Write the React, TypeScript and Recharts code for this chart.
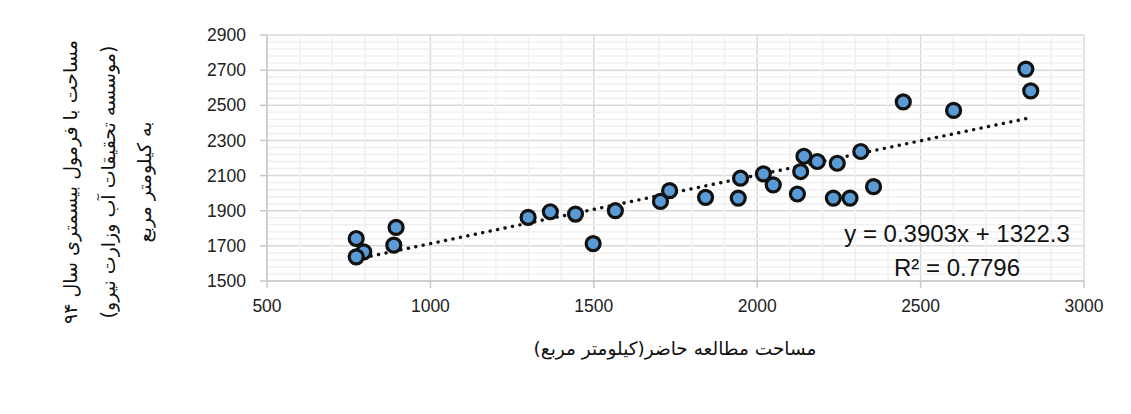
import React from 'react';
import { ScatterChart, Scatter, XAxis, YAxis, CartesianGrid, ReferenceLine } from 'recharts';

// study-area (km²) vs. area from the Bismetri formula (km²)
const studyArea = [
  773, 796, 773, 895, 888, 1299, 1367, 1444, 1498, 1566,
  1704, 1732, 1842, 1942, 1949, 2019, 2049, 2143, 2133, 2184,
  2123, 2245, 2317, 2233, 2284, 2356, 2447, 2601, 2822, 2837,
];
const formulaArea = [
  1742, 1666, 1637, 1805, 1704, 1862, 1894, 1881, 1713, 1900,
  1953, 2014, 1976, 1972, 2085, 2110, 2047, 2210, 2123, 2180,
  1995, 2170, 2237, 1972, 1972, 2037, 2519, 2471, 2706, 2582,
];

const xTicks = [500, 1000, 1500, 2000, 2500, 3000];
const yTicks = [1500, 1700, 1900, 2100, 2300, 2500, 2700, 2900];

// linear trendline as reported on the chart
const slope = 0.3903;
const intercept = 1322.3;
const equationText = 'y = 0.3903x + 1322.3';
const r2Text = 'R² = 0.7796';

const xTitle = 'مساحت مطالعه حاضر(کیلومتر مربع)';
const yTitleLines = [
  'مساحت با فرمول بیسمتری سال ۹۴',
  '(موسسه تحقیقات آب وزارت نیرو)',
  'به کیلومتر مربع',
];

const points = studyArea.map((x, i) => ({ x, y: formulaArea[i] }));
const xMin = Math.min(...studyArea);
const xMax = Math.max(...studyArea);

// minor gridlines: every 100 on x, every 40 on y
const minorX = Array.from({ length: 26 }, (_, i) => 500 + i * 100).filter(v => v % 500 !== 0);
const minorY = Array.from({ length: 36 }, (_, i) => 1500 + i * 40).filter(v => (v - 1500) % 200 !== 0);

const W = 1115;
const H = 400;
const PLOT = { left: 259, top: 27, width: 817, height: 246 };
const Y_AXIS_W = 60;
const X_AXIS_H = 40;

const numFont = "'Liberation Sans', Arial, sans-serif";
const faFont = "'DejaVu Sans', sans-serif";
const gridMajor = '#d9d9d9';
const gridMinor = '#f0f0f0';

const Dot = (props: any) => (
  <circle cx={props.cx} cy={props.cy} r={7} fill="#5b9bd5" stroke="#111" strokeWidth={3.2} />
);

export default function App() {
  return (
    <div style={{ position: 'relative', width: 1131, height: 414 }}>
      <ScatterChart
        width={W}
        height={H}
        margin={{
          top: PLOT.top,
          left: PLOT.left - Y_AXIS_W,
          right: W - PLOT.left - PLOT.width,
          bottom: H - PLOT.top - PLOT.height - X_AXIS_H,
        }}
      >
        {minorX.map(v => (
          <ReferenceLine key={`mx${v}`} x={v} stroke={gridMinor} strokeWidth={1.5} />
        ))}
        {minorY.map(v => (
          <ReferenceLine key={`my${v}`} y={v} stroke={gridMinor} strokeWidth={1.5} />
        ))}
        <CartesianGrid stroke={gridMajor} strokeWidth={1.5} />
        <XAxis
          type="number"
          dataKey="x"
          domain={[500, 3000]}
          ticks={xTicks}
          height={X_AXIS_H}
          tickSize={7}
          tickMargin={12}
          stroke="#c8c8c8"
          strokeWidth={1.5}
          tick={{ fill: '#222', fontSize: 17.5, fontFamily: numFont }}
          label={{
            content: () => (
              <text x={667} y={347} textAnchor="middle" fontSize={18.5} fontFamily={faFont} fill="#111">
                {xTitle}
              </text>
            ),
          }}
        />
        <YAxis
          type="number"
          dataKey="y"
          domain={[1500, 2900]}
          ticks={yTicks}
          width={Y_AXIS_W}
          tickSize={7}
          tickMargin={14}
          stroke="#c8c8c8"
          strokeWidth={1.5}
          tick={{ fill: '#222', fontSize: 17.5, fontFamily: numFont }}
          label={{
            content: () => (
              <g>
                {yTitleLines.map((line, i) => {
                  const cx = [62, 100, 136][i];
                  const cy = 174;
                  return (
                    <text
                      key={i}
                      x={cx}
                      y={cy}
                      textAnchor="middle"
                      dominantBaseline="central"
                      transform={`rotate(-90, ${cx}, ${cy})`}
                      fontSize={19}
                      fontFamily={faFont}
                      fill="#111"
                    >
                      {line}
                    </text>
                  );
                })}
              </g>
            ),
          }}
        />
        <Scatter data={points} shape={Dot} isAnimationActive={false} />
        <ReferenceLine
          segment={[
            { x: xMin, y: slope * xMin + intercept },
            { x: xMax, y: slope * xMax + intercept },
          ]}
          stroke="#111"
          strokeWidth={3.4}
          strokeDasharray="0.1 7.5"
          strokeLinecap="round"
        />
      </ScatterChart>
      <div
        style={{
          position: 'absolute',
          left: 799,
          top: 209,
          width: 300,
          textAlign: 'center',
          fontFamily: numFont,
          fontSize: 24,
          lineHeight: '34px',
          color: '#111',
        }}
      >
        <div>{equationText}</div>
        <div>{r2Text}</div>
      </div>
    </div>
  );
}
